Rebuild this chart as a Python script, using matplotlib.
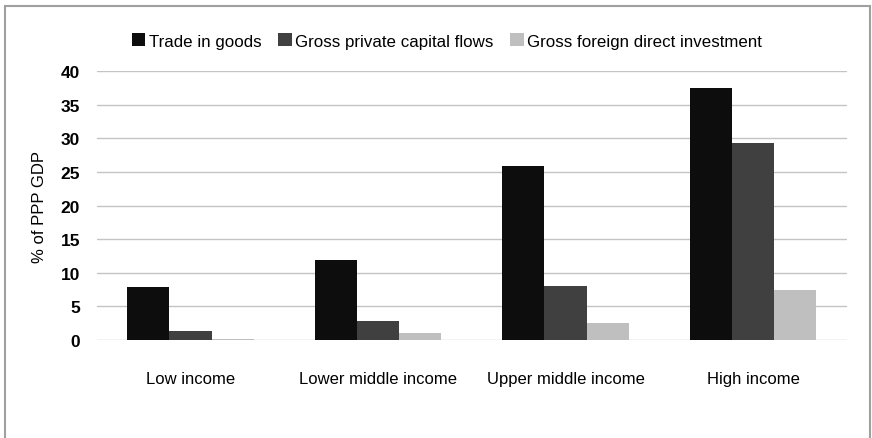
import matplotlib
matplotlib.use("Agg")
import matplotlib.pyplot as plt
import numpy as np
from matplotlib.patches import Rectangle

# data
categories = ["Low income", "Lower middle income", "Upper middle income", "High income"]
trade_goods = [7.85, 11.85, 25.9, 37.4]
private_capital = [1.35, 2.9, 8.1, 29.3]
fdi = [0.2, 1.1, 2.6, 7.4]
series_names = ["Trade in goods", "Gross private capital flows", "Gross foreign direct investment"]
series_colors = ["#0d0d0d", "#404040", "#bfbfbf"]
y_ticks = [0, 5, 10, 15, 20, 25, 30, 35, 40]

plt.rcParams['font.family'] = ['Liberation Sans', 'DejaVu Sans']

fig = plt.figure(figsize=(8.72, 4.39), dpi=100)
ax = fig.add_axes([0.111, 0.223, 0.860, 0.613])

x = np.arange(len(categories))
w = 0.225
for i, (vals, name, col) in enumerate(zip([trade_goods, private_capital, fdi], series_names, series_colors)):
    ax.bar(x + (i - 1) * w, vals, width=w, color=col, label=name, zorder=3)

ax.set_xlim(-0.5, len(categories) - 0.5)
ax.set_ylim(0, 40)
ax.set_yticks(y_ticks)
ax.set_yticklabels([str(t) for t in y_ticks], fontsize=12.5, fontweight='bold')
ax.set_xticks(x)
ax.set_xticklabels(categories, fontsize=12)
ax.tick_params(axis='both', length=0)
ax.tick_params(axis='y', pad=12)
ax.tick_params(axis='x', pad=22)
ax.yaxis.grid(True, color='#c4c4c4', linewidth=1.0, zorder=0)
for s in ax.spines.values():
    s.set_visible(False)
ax.set_ylabel("% of PPP GDP", fontsize=12, labelpad=10)

fig.legend(loc='center', bbox_to_anchor=(447 / 872, 1 - 42 / 439), ncol=3, frameon=False,
           fontsize=12.2, handlelength=0.8, handleheight=0.8, handletextpad=0.2, columnspacing=1.0)

# outer frame
fig.patches.append(Rectangle((5 / 872, -0.05), 865 / 872, 1 - 7 / 439 + 0.05, transform=fig.transFigure,
                             fill=False, edgecolor='#a0a0a0', linewidth=1.5))

fig.savefig("out.png", dpi=100)
